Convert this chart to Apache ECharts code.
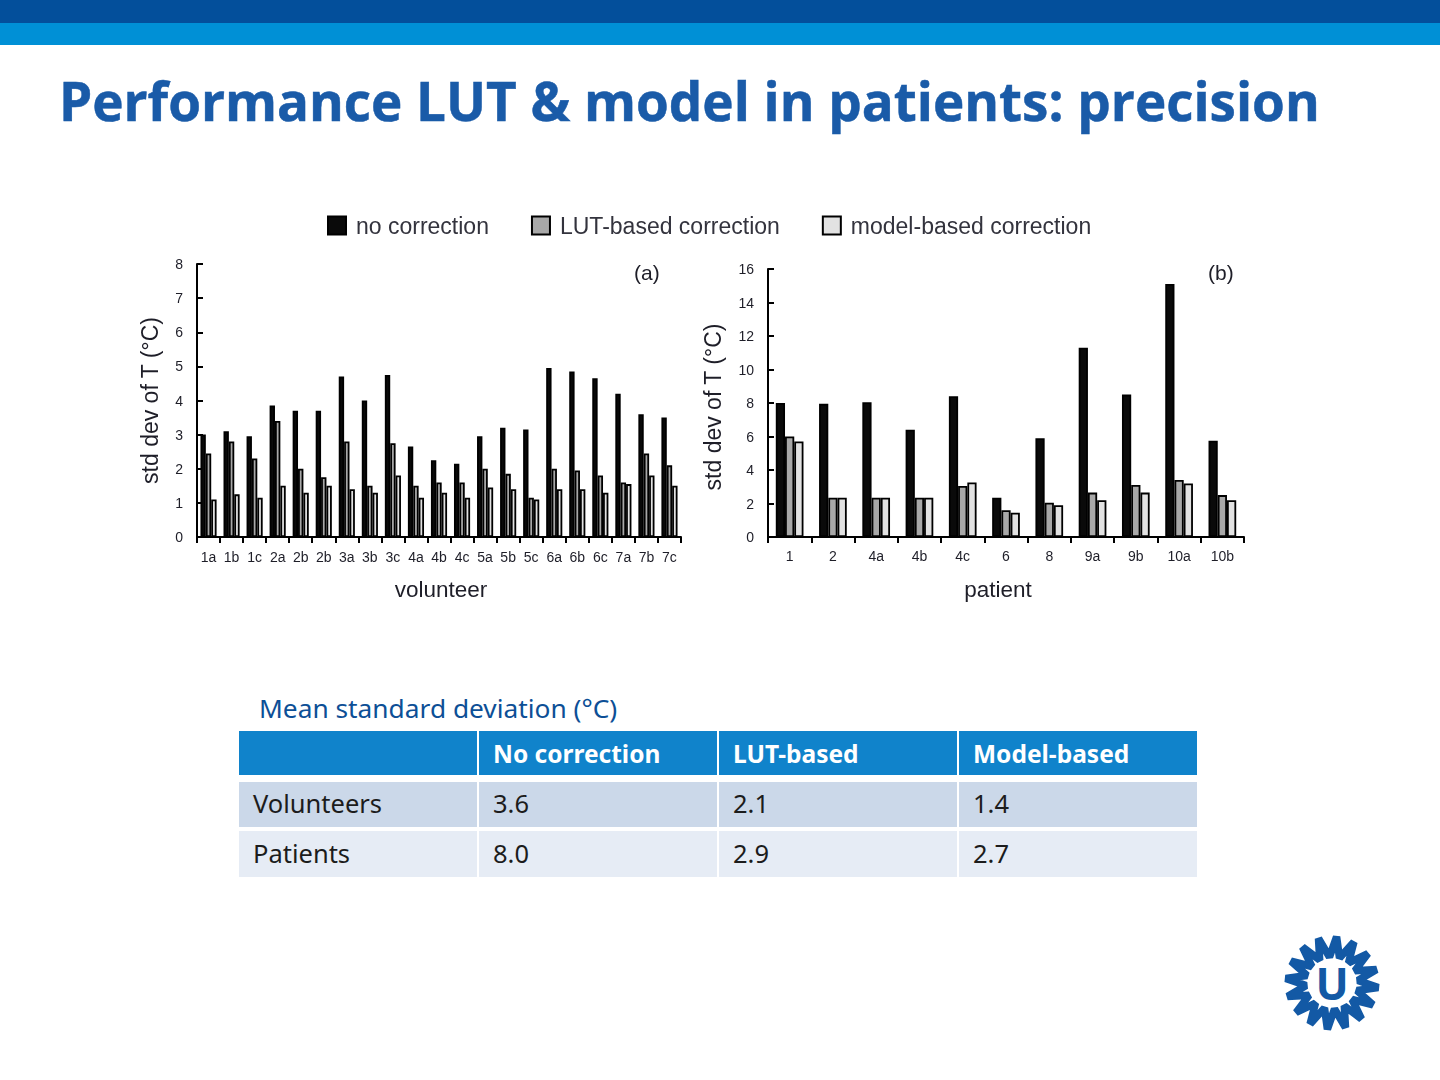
<!DOCTYPE html>
<html><head><meta charset="utf-8">
<style>
html,body{margin:0;padding:0;background:#fff;width:1440px;height:1080px;overflow:hidden}
.abs{position:absolute;white-space:nowrap}
#chart{position:absolute;left:0;top:0;width:1440px;height:1080px;filter:blur(0.7px)}
.cell{position:absolute;box-sizing:border-box;padding-left:14px;padding-bottom:3px;font-family:"Noto Sans",sans-serif;font-size:25.5px;color:#1c1c1c;display:flex;align-items:center}
.hd{background:#1083cb;color:#fff;font-weight:700;font-size:24.5px;padding-bottom:0}
</style>
<script src="https://cdn.jsdelivr.net/npm/echarts@6/dist/echarts.min.js"></script>
</head><body>
<div class="abs" style="left:0;top:0;width:1440px;height:23px;background:#034f9b"></div>
<div class="abs" style="left:0;top:23px;width:1440px;height:22px;background:#0090d6"></div>
<div class="abs" style="left:59px;top:63px;font-family:'Open Sans',sans-serif;font-weight:700;font-size:54px;color:#1a5ba8;transform:scaleX(0.981);transform-origin:left center;-webkit-text-stroke:0.5px #1a5ba8">Performance LUT &amp; model in patients: precision</div>
<div id="chart"></div>
<div class="abs" style="left:259px;top:690px;font-family:'Noto Sans',sans-serif;font-size:26.3px;color:#0d4f96">Mean standard deviation (°C)</div>
<div id="table"></div>
<svg id="logo" class="abs" style="left:1280px;top:931px" width="104" height="104" viewBox="-52 -52 104 104"></svg>
<script>
const seriesNames = ['no correction','LUT-based correction','model-based correction'];
const volunteers = ['1a','1b','1c','2a','2b','2b','3a','3b','3c','4a','4b','4c','5a','5b','5c','6a','6b','6c','7a','7b','7c'];
const volNone  = [3.0,3.1,2.95,3.85,3.7,3.7,4.7,4.0,4.75,2.65,2.25,2.15,2.95,3.2,3.15,4.95,4.85,4.65,4.2,3.6,3.5];
const volLut   = [2.45,2.8,2.3,3.4,2.0,1.75,2.8,1.5,2.75,1.5,1.6,1.6,2.0,1.85,1.15,2.0,1.95,1.8,1.6,2.45,2.1];
const volModel = [1.1,1.25,1.15,1.5,1.3,1.5,1.4,1.3,1.8,1.15,1.3,1.15,1.45,1.4,1.1,1.4,1.4,1.3,1.55,1.8,1.5];
const patients = ['1','2','4a','4b','4c','6','8','9a','9b','10a','10b'];
const patNone  = [8.0,7.95,8.05,6.4,8.4,2.35,5.9,11.3,8.5,15.1,5.75];
const patLut   = [6.0,2.35,2.35,2.35,3.05,1.6,2.05,2.65,3.1,3.4,2.5];
const patModel = [5.7,2.35,2.35,2.35,3.25,1.45,1.9,2.2,2.65,3.2,2.2];
const tableHead = ['','No correction','LUT-based','Model-based'];
const tableRows = [['Volunteers','3.6','2.1','1.4'],['Patients','8.0','2.9','2.7']];

const colors = ['#0a0a0a','#a8a8a8','#e2e2e2'];
const txt = '#1e1e28', font = '"Liberation Sans",Arial,sans-serif';
function xAxis(gi,data,name,gap,margin,pad){return {type:'category',gridIndex:gi,data,name,nameLocation:'middle',nameGap:gap,
  nameTextStyle:{fontFamily:font,fontSize:22.5,color:txt,padding:pad},
  axisLine:{lineStyle:{color:'#000',width:2}},axisTick:{show:true,alignWithLabel:false,length:6,lineStyle:{color:'#000',width:2}},
  axisLabel:{interval:0,margin,fontFamily:font,fontSize:14,color:txt},splitLine:{show:false}};}
function yAxis(gi,max,interval,gap,pad){return {type:'value',gridIndex:gi,min:0,max,interval,name:'std dev of T (°C)',nameLocation:'middle',nameGap:gap,
  nameTextStyle:{fontFamily:font,fontSize:23,color:txt,padding:pad},
  axisLine:{show:true,lineStyle:{color:'#000',width:2}},axisTick:{show:true,inside:true,length:6,lineStyle:{color:'#000',width:2}},
  axisLabel:{margin:14,fontFamily:font,fontSize:14,color:txt},splitLine:{show:false}};}
function bars(name,data,i,gi,cat){return {type:'bar',name,data,xAxisIndex:gi,yAxisIndex:gi,barGap:'0%',barCategoryGap:cat,
  itemStyle:{color:colors[i],borderColor:'#000',borderWidth:1.8},animation:false};}
const chart = echarts.init(document.getElementById('chart'),null,{renderer:'svg'});
chart.setOption({
  animation:false,
  grid:[{left:197,top:264,width:484,height:273},{left:768,top:269,width:476,height:268}],
  legend:{left:322,top:209,icon:'rect',itemWidth:18,itemHeight:18,itemGap:42,selectedMode:false,data:seriesNames,
    textStyle:{fontFamily:font,fontSize:23,color:'#33333d',padding:[0,0,0,5]}},
  xAxis:[xAxis(0,volunteers,'volunteer',41,13,[0,0,0,4]),xAxis(1,patients,'patient',41,12,[0,16,0,0])],
  yAxis:[yAxis(0,8,1,36,[0,0,0,0]),yAxis(1,16,2,44,[0,8,0,0])],
  series:[bars(seriesNames[0],volNone,0,0,'30%'),bars(seriesNames[1],volLut,1,0,'30%'),bars(seriesNames[2],volModel,2,0,'30%'),
          bars(seriesNames[0],patNone,0,1,'36%'),bars(seriesNames[1],patLut,1,1,'36%'),bars(seriesNames[2],patModel,2,1,'36%')],
  graphic:[
    {type:'text',left:634,top:262,style:{text:'(a)',font:'21px '+font,fill:txt}},
    {type:'text',left:1208,top:262,style:{text:'(b)',font:'21px '+font,fill:txt}}
  ]
});
// table
const colX=[239,479,719,959], colW=[238,238,238,238], rowY=[731,782,831], rowH=[44,45,46];
const tb=document.getElementById('table');
function cell(t,c,r,cls,bg){const d=document.createElement('div');d.className='cell '+cls;d.textContent=t;
  d.style.cssText+=`left:${colX[c]}px;top:${rowY[r]}px;width:${colW[c]}px;height:${rowH[r]}px;`+(bg?`background:${bg};`:'');tb.appendChild(d);}
tableHead.forEach((t,c)=>cell(t,c,0,'hd'));
tableRows.forEach((row,r)=>row.forEach((t,c)=>cell(t,c,r+1,'',r?'#e6ecf5':'#cbd8e9')));
// logo
const N=16;let pts=[];
for(let i=0;i<N*2;i++){const a=Math.PI*i/N-Math.PI/2+Math.PI/N/2,rr=i%2?26:46.5;pts.push((rr*Math.cos(a)).toFixed(1)+','+(rr*Math.sin(a)).toFixed(1));}
document.getElementById('logo').innerHTML=`<polygon points="${pts.join(' ')}" fill="none" stroke="#1359a5" stroke-width="7.5" stroke-linejoin="bevel"/>`+
 `<text x="0" y="17" text-anchor="middle" font-family="Open Sans" font-weight="700" font-size="44" fill="#1359a5">U</text>`;
</script>
</body></html>
